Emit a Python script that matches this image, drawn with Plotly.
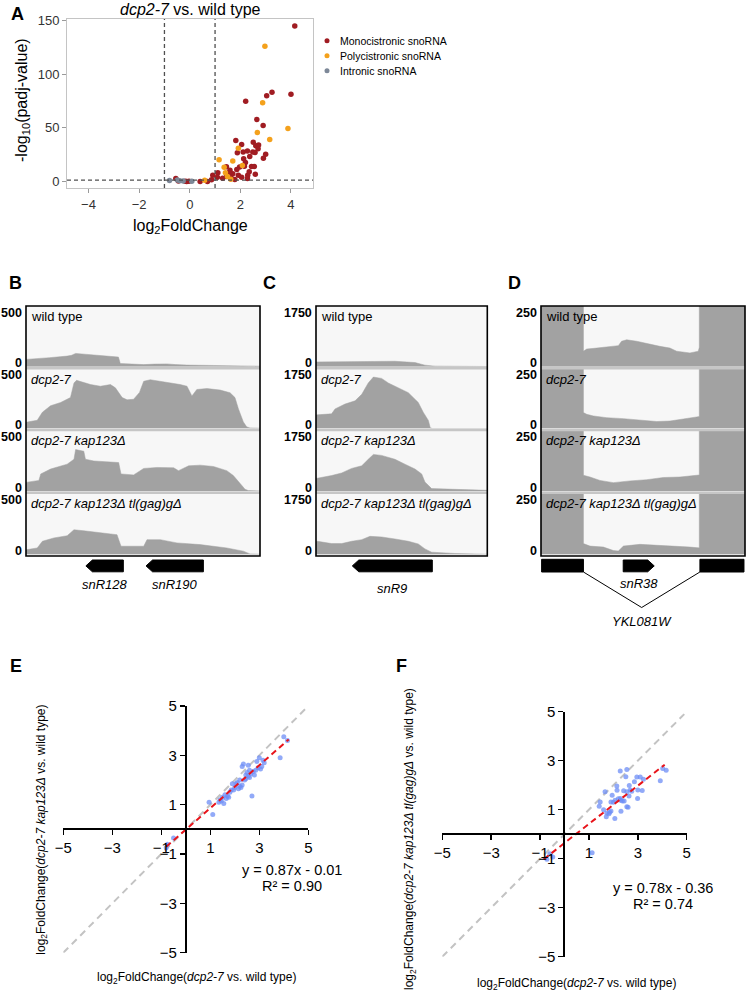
import plotly.graph_objects as go

W, H = 747, 996
FONT = "Liberation Sans"


def PX(x):
    return x / W


def PY(y):
    return 1 - y / H


# ---------------- Panel A data (volcano) ----------------
mono_lfc = [4.15, 4.0, 3.25, 3.04, 2.21, 2.65, 2.90, 1.82, 2.05, 2.51, 2.61, 2.72, 1.88, 2.11,
            2.28, 2.49, 2.58, 2.70, 3.0, 2.91, 2.13, 2.20, 2.37, 2.44, 2.55, 2.16, 1.97, 1.86,
            1.59, 1.45, 1.70, 1.55, 1.92, 2.29, 2.28, 2.59, 2.05, 1.46, 1.11, 1.09, 0.91, 0.86,
            0.70, 0.41, -0.03, -0.12, -0.18, -0.55, -0.45, 1.30, 1.63, 2.35, 1.78]
mono_padj = [144.7, 81.2, 83.1, 79.7, 74.7, 57.7, 52.1, 38.2, 34.4, 36.6, 33.2, 34.1, 26.7, 27.6,
             28.5, 27.6, 27.0, 30.4, 25.5, 21.7, 21.1, 17.7, 23.3, 14.0, 14.0, 14.3, 13.5, 11.2,
             10.6, 13.7, 7.2, 8.1, 5.9, 5.9, 2.8, 6.9, 4.1, 4.7, 8.1, 4.0, 5.9, 1.6,
             0.1, 0.1, 0.2, 0.1, 0.2, 2.8, 0.5, 3.0, 3.5, 9.0, 2.0]
poly_lfc = [2.97, 2.88, 3.88, 2.67, 3.16, 1.92, 1.16, 1.70, 2.08, 1.36, 1.41, 1.49, 1.62, 0.59]
poly_padj = [125.8, 73.2, 49.3, 45.6, 39.1, 31.0, 20.2, 19.0, 14.9, 13.4, 8.1, 4.7, 2.2, 1.3]
intr_lfc = [-0.80, -0.49, -0.40, -0.26, 0.08]
intr_padj = [1.0, 1.5, 0.8, 0.6, 0.3]
fc_cut = [-1, 1]
padj_cut = 1.3
classes = ["Monocistronic snoRNA", "Polycistronic snoRNA", "Intronic snoRNA"]
class_colors = ["#a01c22", "#f4a11c", "#7d8898"]

# ---------------- Panels B-D data (coverage tracks, position in % of window) ----------------
track_names = ["wild type", "<i>dcp2-7</i>", "<i>dcp2-7 kap123Δ</i>",
               "<i>dcp2-7 kap123Δ tl(gag)gΔ</i>"]

B_scale = 500
B_pos = [
    [0, 4.8, 10, 17.6, 19.5, 21.2, 24.7, 28, 32, 36.1, 39.5, 40.3, 45, 50.3, 55, 60.2, 64, 68.8, 80, 88.6, 95, 100],
    [0, 0.6, 4.8, 7.0, 10.5, 14.8, 19.0, 20.5, 21.6, 24.7, 27.6, 31.8, 36.1, 38.2, 41.1, 43.2, 46.0, 48.5,
     50.3, 53.1, 57.4, 61.6, 65.9, 68.8, 70.9, 73.0, 77.3, 83.0, 87.2, 89.3, 90.8, 92.9, 94.3, 95.7, 100],
    [0, 0.6, 5.5, 6.3, 10.5, 17.6, 20.5, 21.2, 24.7, 25.4, 29.0, 34.7, 39.6, 40.6, 46.0, 50.3, 56.0, 63.1,
     65.2, 69.5, 74.4, 80.1, 85.8, 88.6, 91.5, 93.6, 95.0, 100],
    [0, 0.6, 4.8, 7.0, 11.9, 17.6, 20.5, 24.7, 31.8, 38.9, 40.6, 50.3, 51.7, 57.4, 64.5, 74.4, 85.8, 92.9, 95.7, 100],
]
B_cov = [
    [61, 65, 75, 88, 95, 110, 105, 96, 92, 85, 80, 27, 20, 18, 22, 24, 18, 14, 11, 8, 6, 5],
    [50, 54, 68, 135, 189, 216, 257, 378, 400, 384, 365, 351, 365, 338, 257, 238, 243, 300,
     392, 405, 392, 378, 365, 351, 270, 324, 332, 319, 297, 257, 162, 54, 14, 5, 2],
    [70, 74, 88, 141, 181, 221, 261, 340, 327, 261, 247, 239, 234, 141, 133, 186, 194, 191,
     168, 207, 213, 202, 168, 128, 61, 16, 5, 2],
    [38, 40, 53, 107, 134, 152, 200, 192, 174, 160, 67, 67, 120, 120, 94, 80, 53, 27, 5, 2],
]

C_scale = 1750
C_pos = [
    [0, 0.8, 22.8, 28.6, 46.1, 57.8, 63.6, 69.5, 100],
    [0, 0.8, 9.1, 11.1, 16.9, 22.8, 26.7, 30.5, 33.5, 38.3, 42.2, 48.1, 53.9, 59.7, 62.6, 65.6, 66.7, 68, 100],
    [0, 0.8, 9.1, 15.0, 20.8, 26.7, 30.5, 33.5, 38.3, 46.1, 51.9, 57.8, 61.7, 63.6, 67.5, 81.1, 98.6, 100],
    [0, 0.8, 9.1, 15.0, 20.8, 26.7, 31.5, 38.3, 46.1, 53.9, 59.7, 63.6, 67.5, 81.1, 98.6, 100],
]
C_cov = [
    [140, 140, 140, 159, 159, 122, 47, 19, 9],
    [390, 397, 426, 568, 709, 804, 993, 1324, 1495, 1457, 1324, 1182, 1041, 757, 473, 236, 19, 0, 0],
    [370, 372, 447, 521, 652, 726, 912, 1052, 1024, 912, 773, 633, 493, 261, 74, 56, 28, 25],
    [370, 374, 309, 309, 374, 421, 514, 496, 440, 374, 299, 159, 65, 28, 9, 8],
]

D_scale = 250
D_pos = [
    [0, 20.8, 20.8, 22.4, 27.3, 32.2, 37.9, 39.5, 42.0, 46.9, 51.8, 58.3, 63.2, 66.5, 73.0, 77.1, 77.6, 77.6, 100],
    [0, 20.8, 20.8, 22.4, 25.7, 32.2, 40.4, 48.5, 56.7, 63.2, 69.8, 76.3, 77.6, 77.6, 100],
    [0, 20.8, 20.8, 24.0, 28.9, 35.5, 43.6, 51.8, 60.0, 68.1, 76.3, 77.6, 77.6, 100],
    [0, 20.8, 20.8, 24.0, 30.6, 35.5, 37.9, 40.4, 48.5, 56.7, 64.9, 73.0, 77.1, 77.6, 77.6, 100],
]
D_cov = [
    [3000, 3000, 64, 73, 77, 82, 87, 105, 111, 105, 95, 84, 77, 64, 57, 64, 80, 3000, 3000],
    [3000, 3000, 66, 59, 52, 45, 41, 36, 29, 31, 38, 48, 50, 3000, 3000],
    [3000, 3000, 65, 58, 44, 35, 42, 47, 56, 58, 65, 66, 3000, 3000],
    [3000, 3000, 44, 34, 30, 16, 14, 34, 41, 38, 34, 30, 27, 27, 3000, 3000],
]

# gene models: (name, start %, end %, strand)
B_genes = [("snR128", 25.6, 41.6, "-"), ("snR190", 51.3, 75.8, "-")]
C_genes = [("snR9", 21.2, 67.9, "-")]
D_genes = [("snR38", 40.3, 55.5, "+")]
D_exons = [(0.3, 20.8), (77.9, 99.5)]
D_host = "YKL081W"

# ---------------- Panels E/F data (log2FC scatter) ----------------
E_x = [4.0, 4.15, 3.85, 3.2, 3.15, 3.0, 2.9, 2.95, 3.05, 2.85, 2.75, 2.6, 2.55, 2.5, 2.45, 2.35, 2.3, 2.4,
       2.55, 2.65, 2.7, 2.2, 2.1, 2.05, 2.2, 2.25, 2.3, 2.0, 1.95, 1.9, 1.8, 1.85, 1.7, 1.65, 1.6, 1.5,
       1.45, 1.4, 1.35, 0.95, 1.1, 1.75, 2.15, 2.45, 2.6, 2.8, 3.1, 1.55, -0.5, -0.75, -0.8]
E_y = [3.75, 3.6, 2.9, 2.7, 2.8, 2.9, 2.75, 2.5, 2.45, 2.4, 2.35, 2.4, 2.6, 2.3, 2.2, 2.65, 2.55, 2.0,
       2.15, 2.25, 1.35, 2.0, 1.9, 1.85, 1.75, 1.7, 1.8, 1.7, 1.6, 1.85, 1.5, 1.6, 1.35, 1.25, 1.4, 1.3,
       1.15, 1.2, 1.1, 1.1, 0.6, 1.3, 1.65, 2.05, 2.1, 2.2, 2.55, 1.05, -0.35, -0.6, -0.75]
E_slope, E_icpt, E_r2 = 0.87, -0.01, 0.90
E_fit_x = [-0.8, 4.2]

F_x = [4.02, 4.16, 3.92, 3.23, 2.96, 3.1, 2.55, 2.28, 2.51, 2.86, 2.65, 3.18, 2.99, 2.69, 2.55, 2.42,
       2.64, 2.14, 2.15, 1.95, 2.07, 2.30, 2.55, 2.31, 2.06, 1.9, 1.73, 1.71, 1.82, 1.66, 1.46, 1.42,
       1.6, 1.9, 2.28, 2.37, 2.44, 1.85, 2.0, 2.2, 2.6, 2.75, 3.0, 1.13, -0.48, -0.72, -0.6]
F_y = [2.68, 2.61, 2.18, 2.24, 2.33, 2.33, 2.64, 2.58, 2.34, 2.14, 1.99, 1.78, 1.46, 1.80, 1.73, 1.77,
       1.56, 1.97, 1.79, 1.59, 1.39, 1.39, 1.12, 0.94, 0.64, 0.95, 0.87, 0.71, 0.83, 1.73, 1.31, 1.14,
       1.0, 1.31, 1.46, 1.36, 1.36, 0.9, 1.3, 1.45, 1.1, 1.75, 1.8, -0.76, -0.93, -1.02, -0.8]
F_slope, F_icpt, F_r2 = 0.78, -0.36, 0.74
F_fit_x = [-0.85, 4.1]

ticks_ef = [-5, -3, -1, 1, 3, 5]

# ====================================================================
fig = go.Figure()
layout = dict(
    template="none",
    width=W, height=H, margin=dict(l=0, r=0, t=0, b=0, pad=0, autoexpand=False),
    paper_bgcolor="white", plot_bgcolor="rgba(0,0,0,0)",
    font=dict(family=FONT, color="black"),
    showlegend=False,
)
shapes = []
annotations = []


def ann(x, y, text, size=13, xanchor="center", yanchor="middle", angle=0, bold=False, color="black"):
    if bold:
        text = "<b>" + text + "</b>"
    annotations.append(dict(x=PX(x), y=PY(y), xref="paper", yref="paper", text=text, showarrow=False,
                            xanchor=xanchor, yanchor=yanchor, textangle=angle,
                            font=dict(size=size, color=color, family=FONT)))


# ---------------- Panel A ----------------
for xs, ys, name, col in zip([mono_lfc, poly_lfc, intr_lfc], [mono_padj, poly_padj, intr_padj],
                             classes, class_colors):
    fig.add_trace(go.Scatter(x=xs, y=ys, mode="markers", name=name, xaxis="x", yaxis="y",
                             marker=dict(color=col, size=5.5, line=dict(width=0))))

axA = dict(showgrid=False, zeroline=False, ticks="outside", ticklen=4, tickcolor="#9a9a9a",
           showline=True, linecolor="#c4c4c4", linewidth=1, mirror=True, automargin=False,
           tickfont=dict(size=13, color="#333333", family=FONT))
layout["xaxis"] = dict(axA, domain=[PX(67), PX(313)], range=[-4.85, 4.87], tickvals=[-4, -2, 0, 2, 4], anchor="y")
layout["yaxis"] = dict(axA, domain=[PY(188), PY(19)], range=[-6, 151.2], tickvals=[0, 50, 100, 150], anchor="x")
for v in fc_cut:
    shapes.append(dict(type="line", xref="x", yref="y domain", x0=v, x1=v, y0=0, y1=1,
                       line=dict(color="#505050", width=1.3, dash="4px,3px")))
shapes.append(dict(type="line", xref="x domain", yref="y", x0=0, x1=1, y0=padj_cut, y1=padj_cut,
                   line=dict(color="#505050", width=1.3, dash="4px,3px")))
ann(17, 14, "A", size=18, bold=True)
ann(190, 9, "<i>dcp2-7</i> vs. wild type", size=16)
ann(22, 100, "-log<sub>10</sub>(padj-value)", size=16, angle=-90)
ann(190, 227, "log<sub>2</sub>FoldChange", size=16)
# key for the three snoRNA classes
for k, (name, col) in enumerate(zip(classes, class_colors)):
    cy = 40.7 + 15 * k
    shapes.append(dict(type="circle", xref="paper", yref="paper", x0=PX(324.5), x1=PX(329.5),
                       y0=PY(cy + 2.5), y1=PY(cy - 2.5), fillcolor=col, line=dict(width=0)))
    ann(338, cy, name, size=10.5, xanchor="left")

# ---------------- Panels B-D ----------------
TB = [306, 368.3, 430, 492.7, 556]
panels = [
    ("B", 2, 26, 260, B_scale, B_pos, B_cov, B_genes, 584, 15.5),
    ("C", 3, 316, 487.3, C_scale, C_pos, C_cov, C_genes, 588, 269),
    ("D", 4, 541, 745, D_scale, D_pos, D_cov, D_genes, 583, 514),
]
fillc = "#a2a2a2"
for j, (letter, xi, x0, x1, scale, posl, covl, genes, gl_y, lx) in enumerate(panels):
    xname = "x%d" % xi
    layout["xaxis%d" % xi] = dict(domain=[PX(x0), PX(x1)], range=[0, 100], visible=False,
                                  anchor="y%d" % (2 + 4 * j), fixedrange=True, automargin=False)
    shapes.append(dict(type="rect", xref="paper", yref="paper", x0=PX(x0), x1=PX(x1), y0=PY(TB[4]), y1=PY(TB[0]),
                       fillcolor="#f7f7f7", line=dict(width=0), layer="below"))
    for i in range(4):
        yi = 2 + 4 * j + i
        layout["yaxis%d" % yi] = dict(domain=[PY(TB[i + 1] - 1.5), PY(TB[i])], range=[0, scale],
                                      visible=False, anchor=xname, fixedrange=True, automargin=False)
        fig.add_trace(go.Scatter(x=posl[i], y=covl[i], mode="lines", xaxis=xname, yaxis="y%d" % yi,
                                 line=dict(width=0.5, color=fillc), fill="tozeroy", fillcolor=fillc,
                                 showlegend=False, hoverinfo="skip"))
        ann(x0 + 3, TB[i] + 11, track_names[i], size=13, xanchor="left")
        ann(x0 - 2.5, TB[i] + 7, str(scale), size=12.5, xanchor="right", bold=True)
        ann(x0 - 2.5, TB[i + 1] - 5, "0", size=12.5, xanchor="right", bold=True)
    for b in TB[1:4]:
        shapes.append(dict(type="line", xref="paper", yref="paper", x0=PX(x0), x1=PX(x1), y0=PY(b), y1=PY(b),
                           line=dict(color="#c6c6c6", width=2.5)))
    shapes.append(dict(type="rect", xref="paper", yref="paper", x0=PX(x0), x1=PX(x1), y0=PY(TB[4]), y1=PY(TB[0]),
                       line=dict(color="black", width=1.6)))
    ann(lx, 283, letter, size=18, bold=True)
    # gene arrows
    yt, yb = PY(560), PY(571.8)
    ym = (yt + yb) / 2
    hl = 100 * 6.5 / (x1 - x0)  # arrow head ~6.5 px, in % units of this window
    for name, g0, g1, strand in genes:
        if strand == "-":
            path = "M %f,%f L %f,%f L %f,%f L %f,%f L %f,%f Z" % (g0, ym, g0 + hl, yt, g1, yt, g1, yb, g0 + hl, yb)
        else:
            path = "M %f,%f L %f,%f L %f,%f L %f,%f L %f,%f Z" % (g1, ym, g1 - hl, yt, g0, yt, g0, yb, g1 - hl, yb)
        shapes.append(dict(type="path", xref=xname, yref="paper", path=path, fillcolor="black",
                           line=dict(color="black", width=1)))
        gx = x0 + (g0 + g1) / 2 / 100 * (x1 - x0)
        ann(gx, gl_y, "<i>%s</i>" % name, size=13)

# host gene exons and intron for D
xD0, xD1 = 541, 745
for e0, e1 in D_exons:
    shapes.append(dict(type="rect", xref="x4", yref="paper", x0=e0, x1=e1, y0=PY(572), y1=PY(559.3),
                       fillcolor="black", line=dict(color="black", width=1)))
apex = (D_exons[0][1] + D_exons[1][0]) / 2
shapes.append(dict(type="path", xref="x4", yref="paper",
                   path="M %f,%f L %f,%f L %f,%f" % (D_exons[0][1], PY(572), apex, PY(607.5), D_exons[1][0], PY(572)),
                   line=dict(color="black", width=1)))
ann(xD0 + apex / 100 * (xD1 - xD0), 621, "<i>%s</i>" % D_host, size=13)

# ---------------- Panels E/F ----------------
ef = [
    ("E", 5, 14, (63.3, 308.3), (706, 952.7), 829.3, 185.8, E_x, E_y, E_slope, E_icpt, E_r2, E_fit_x,
     "log<sub>2</sub>FoldChange(<i>dcp2-7 kap123Δ</i> vs. wild type)", 41.7, 830, 978, 196.7, 16, 291.7, 869.5),
    ("F", 6, 15, (442.3, 686.7), (711.7, 956.7), 834.2, 564.4, F_x, F_y, F_slope, F_icpt, F_r2, F_fit_x,
     "log<sub>2</sub>FoldChange(<i>dcp2-7 kap123Δ tl(gag)gΔ</i> vs. wild type)", 410, 839, 984, 576.7, 401.5, 663.3, 887.5),
]
for (letter, xi, yi, (ax0, ax1), (ay0, ay1), xpos_y, ypos_x, xs, ys, sl, ic, r2, fitx,
     ytitle, ytx, yty, xty, xtx, lx, eqx, eqy) in ef:
    xn, yn = "x%d" % xi, "y%d" % yi
    axe = dict(range=[-5, 5], anchor="free", tickvals=ticks_ef, ticks="outside", ticklen=5, tickwidth=1.5,
               tickcolor="black", showline=True, linecolor="black", linewidth=2, showgrid=False,
               zeroline=False, tickfont=dict(size=15, color="black", family=FONT), fixedrange=True,
               automargin=False)
    layout["xaxis%d" % xi] = dict(axe, domain=[PX(ax0), PX(ax1)], position=PY(xpos_y))
    layout["yaxis%d" % yi] = dict(axe, domain=[PY(ay1), PY(ay0)], position=PX(ypos_x))
    fig.add_trace(go.Scatter(x=[-5, 4.9], y=[-5, 4.9], mode="lines", xaxis=xn, yaxis=yn, showlegend=False,
                             line=dict(color="#c3c3c3", width=2, dash="7px,5px"), hoverinfo="skip"))
    fig.add_trace(go.Scatter(x=xs, y=ys, mode="markers", xaxis=xn, yaxis=yn, showlegend=False,
                             marker=dict(color="#6d8ef5", size=5, opacity=0.75, line=dict(width=0))))
    fig.add_trace(go.Scatter(x=fitx, y=[sl * v + ic for v in fitx], mode="lines", xaxis=xn, yaxis=yn,
                             showlegend=False, line=dict(color="#e8141b", width=2, dash="6px,4px"),
                             hoverinfo="skip"))
    ann(lx, 666, letter, size=18, bold=True)
    ann(ytx, yty, ytitle, size=12, angle=-90)
    ann(xtx, xty, "log<sub>2</sub>FoldChange(<i>dcp2-7</i> vs. wild type)", size=12)
    sign = "-" if ic < 0 else "+"
    ann(eqx, eqy, "y = %.2fx %s %.2f" % (sl, sign, abs(ic)), size=14.5)
    ann(eqx, eqy + 16.5, "R² = %.2f" % r2, size=14.5)

layout["shapes"] = shapes
layout["annotations"] = annotations
fig.update_layout(**layout)
fig.write_html("out.html", config={"displayModeBar": False, "staticPlot": True},
               post_script="document.body.style.margin='0px';document.body.style.overflow='hidden';")
